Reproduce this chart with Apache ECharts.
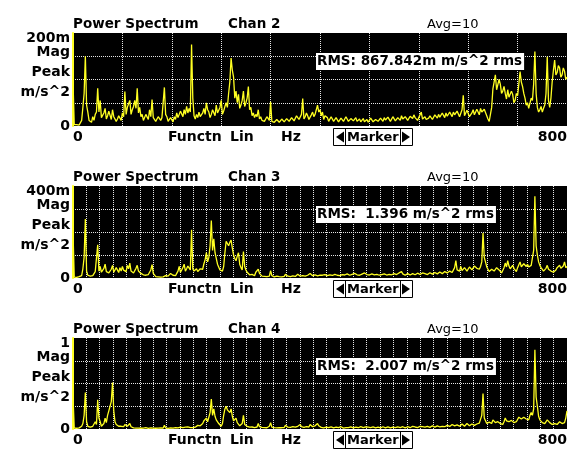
<!DOCTYPE html>
<html>
<head>
<meta charset="utf-8">
<script src="https://cdn.jsdelivr.net/npm/echarts@6/dist/echarts.min.js"></script>
<style>
html, body { margin: 0; padding: 0; background: #fff; }
#chart { width: 574px; height: 458px; }
</style>
</head>
<body>
<div id="chart"></div>
<script>
// spectrum lines, one value every 2 Hz from 0 to 800 Hz (20 per row = 40 Hz)
var freqStep = 2;

// Chan 2, in m(m/s^2)
var chan2 = [
  95, 3, 3, 3, 3, 2, 4, 12, 40, 70, 150, 45, 30, 12, 10, 8, 20, 12, 25, 30,
  81, 30, 55, 18, 20, 28, 38, 15, 22, 32, 28, 14, 35, 20, 18, 10, 15, 22, 18, 12,
  28, 20, 74, 25, 40, 48, 55, 25, 35, 42, 55, 38, 81, 28, 40, 20, 25, 12, 15, 25,
  22, 14, 35, 20, 57, 18, 20, 10, 15, 20, 22, 12, 18, 22, 83, 25, 20, 10, 12, 18,
  15, 9, 20, 14, 28, 18, 22, 32, 30, 20, 35, 25, 42, 28, 38, 30, 175, 60, 22, 15,
  25, 18, 30, 20, 22, 28, 38, 25, 50, 35, 30, 18, 25, 35, 32, 22, 45, 28, 30, 40,
  55, 25, 32, 42, 50, 40, 70, 95, 146, 120, 105, 60, 75, 50, 68, 38, 45, 55, 75, 42,
  50, 60, 85, 35, 40, 22, 28, 18, 25, 20, 35, 15, 20, 12, 15, 10, 14, 20, 16, 12,
  52, 10, 14, 8, 10, 14, 12, 8, 10, 15, 13, 9, 11, 16, 15, 10, 12, 18, 16, 11,
  14, 22, 20, 14, 18, 25, 59, 15, 20, 28, 22, 14, 18, 24, 30, 20, 25, 35, 45, 30,
  35, 22, 30, 14, 22, 26, 18, 10, 14, 20, 17, 10, 12, 18, 16, 9, 11, 17, 15, 10,
  13, 20, 18, 10, 12, 16, 20, 11, 14, 18, 10, 13, 15, 9, 12, 16, 9, 12, 14, 8,
  11, 17, 15, 9, 10, 14, 16, 10, 12, 17, 14, 10, 18, 13, 12, 19, 15, 10, 13, 20,
  17, 11, 12, 18, 16, 12, 22, 15, 14, 20, 18, 12, 15, 21, 20, 16, 24, 18, 16, 12,
  18, 22, 30, 15, 16, 20, 14, 11, 17, 22, 20, 14, 18, 24, 22, 17, 25, 19, 20, 28,
  24, 18, 28, 21, 22, 30, 25, 20, 30, 24, 22, 32, 28, 20, 24, 35, 66, 22, 25, 34,
  30, 20, 22, 28, 35, 24, 25, 36, 32, 24, 38, 30, 28, 36, 32, 22, 15, 10, 12, 40,
  80, 95, 110, 78, 82, 100, 90, 70, 75, 85, 70, 58, 78, 62, 60, 75, 68, 50, 55, 70,
  65, 90, 117, 95, 85, 70, 60, 45, 50, 38, 42, 60, 55, 90, 160, 70, 40, 30, 35, 42,
  30, 38, 45, 70, 149, 55, 40, 60, 95, 120, 142, 110, 115, 130, 125, 105, 110, 125, 118, 100,
  105
];

// Chan 3, in m(m/s^2)
var chan3 = [
  200, 4, 5, 3, 4, 6, 6, 10, 40, 90, 256, 30, 12, 6, 8, 5, 10, 18, 28, 20,
  144, 30, 50, 25, 30, 42, 60, 28, 35, 22, 28, 38, 55, 25, 30, 45, 38, 24, 45, 30,
  50, 34, 40, 28, 55, 40, 65, 30, 35, 22, 30, 42, 55, 30, 38, 20, 22, 14, 18, 12,
  20, 15, 25, 35, 58, 20, 12, 6, 8, 5, 6, 4, 8, 5, 7, 10, 12, 8, 15, 20,
  25, 12, 14, 10, 20, 30, 50, 25, 35, 45, 60, 30, 40, 52, 60, 35, 210, 40, 30, 22,
  40, 28, 32, 40, 45, 38, 62, 80, 110, 70, 90, 140, 250, 120, 170, 110, 85, 60, 55, 35,
  28, 30, 50, 110, 160, 150, 140, 155, 165, 130, 100, 85, 75, 95, 110, 60, 45, 35, 115, 50,
  35, 25, 20, 14, 22, 16, 15, 10, 25, 18, 38, 20, 15, 8, 10, 7, 9, 6, 12, 8,
  32, 10, 8, 5, 6, 8, 9, 6, 7, 5, 10, 7, 16, 9, 8, 5, 6, 8, 9, 6,
  7, 10, 16, 9, 8, 6, 10, 7, 8, 11, 12, 8, 20, 12, 10, 7, 14, 10, 9, 12,
  12, 9, 12, 8, 15, 11, 10, 14, 14, 9, 11, 15, 16, 10, 12, 16, 10, 8, 15, 11,
  13, 17, 18, 11, 12, 15, 16, 12, 20, 14, 14, 10, 12, 16, 17, 12, 22, 14, 15, 11,
  13, 17, 18, 12, 14, 18, 16, 11, 12, 16, 15, 11, 18, 13, 13, 17, 16, 12, 14, 18,
  19, 13, 15, 20, 22, 16, 28, 18, 16, 12, 14, 19, 18, 13, 15, 19, 20, 14, 17, 21,
  22, 15, 18, 22, 16, 19, 20, 15, 18, 23, 22, 17, 19, 24, 24, 18, 20, 26, 25, 19,
  22, 28, 28, 22, 25, 30, 32, 24, 30, 45, 76, 35, 38, 30, 50, 32, 35, 45, 42, 30,
  38, 48, 55, 35, 40, 52, 60, 42, 45, 38, 50, 70, 195, 90, 70, 48, 40, 28, 30, 38,
  45, 30, 38, 45, 50, 35, 35, 22, 25, 45, 65, 48, 75, 52, 40, 32, 55, 42, 35, 28,
  45, 58, 70, 48, 55, 62, 70, 50, 60, 48, 45, 55, 60, 120, 355, 140, 100, 70, 55, 45,
  40, 30, 35, 42, 55, 38, 40, 30, 32, 25, 28, 35, 45, 38, 55, 42, 40, 52, 70, 45,
  50
];

// Chan 4, in m/s^2
var chan4 = [
  0.35, 0.01, 0.01, 0.008, 0.01, 0.012, 0.015, 0.03, 0.06, 0.15, 0.40, 0.08, 0.03, 0.015, 0.02, 0.012, 0.03, 0.05, 0.08, 0.05,
  0.32, 0.12, 0.08, 0.03, 0.04, 0.06, 0.12, 0.07, 0.15, 0.2, 0.25, 0.3, 0.51, 0.2, 0.08, 0.05, 0.04, 0.03, 0.05, 0.03,
  0.035, 0.025, 0.05, 0.03, 0.03, 0.02, 0.06, 0.025, 0.02, 0.012, 0.015, 0.01, 0.02, 0.01, 0.012, 0.008, 0.015, 0.01, 0.01, 0.014,
  0.012, 0.008, 0.02, 0.012, 0.015, 0.01, 0.01, 0.008, 0.012, 0.009, 0.01, 0.013, 0.015, 0.01, 0.04, 0.012, 0.012, 0.008, 0.01, 0.012,
  0.015, 0.01, 0.012, 0.016, 0.02, 0.012, 0.015, 0.02, 0.02, 0.014, 0.03, 0.02, 0.018, 0.024, 0.025, 0.016, 0.02, 0.014, 0.015, 0.02,
  0.03, 0.04, 0.05, 0.035, 0.04, 0.06, 0.09, 0.07, 0.12, 0.08, 0.1, 0.18, 0.33, 0.15, 0.22, 0.14, 0.1, 0.08, 0.06, 0.04,
  0.03, 0.06, 0.15, 0.22, 0.25, 0.21, 0.2, 0.18, 0.22, 0.14, 0.09, 0.08, 0.12, 0.07, 0.05, 0.035, 0.03, 0.06, 0.15, 0.05,
  0.04, 0.03, 0.025, 0.02, 0.03, 0.022, 0.02, 0.015, 0.03, 0.022, 0.06, 0.025, 0.025, 0.018, 0.02, 0.015, 0.018, 0.014, 0.02, 0.03,
  0.07, 0.02, 0.02, 0.014, 0.015, 0.012, 0.02, 0.015, 0.018, 0.014, 0.022, 0.016, 0.04, 0.02, 0.02, 0.015, 0.018, 0.022, 0.025, 0.018,
  0.02, 0.016, 0.03, 0.022, 0.05, 0.025, 0.025, 0.018, 0.02, 0.025, 0.03, 0.022, 0.05, 0.03, 0.025, 0.02, 0.035, 0.025, 0.06, 0.035,
  0.03, 0.018, 0.02, 0.012, 0.015, 0.02, 0.025, 0.014, 0.018, 0.024, 0.02, 0.012, 0.015, 0.02, 0.022, 0.014, 0.018, 0.025, 0.015, 0.01,
  0.02, 0.016, 0.025, 0.015, 0.018, 0.024, 0.02, 0.012, 0.015, 0.02, 0.022, 0.014, 0.02, 0.026, 0.025, 0.016, 0.018, 0.024, 0.04, 0.02,
  0.022, 0.015, 0.018, 0.024, 0.02, 0.013, 0.015, 0.02, 0.018, 0.012, 0.02, 0.025, 0.016, 0.012, 0.02, 0.024, 0.018, 0.012, 0.015, 0.02,
  0.02, 0.014, 0.018, 0.023, 0.022, 0.015, 0.02, 0.025, 0.016, 0.012, 0.02, 0.025, 0.018, 0.014, 0.022, 0.03, 0.05, 0.022, 0.02, 0.015,
  0.025, 0.03, 0.02, 0.025, 0.028, 0.02, 0.022, 0.028, 0.025, 0.018, 0.03, 0.035, 0.024, 0.02, 0.028, 0.034, 0.03, 0.022, 0.025, 0.03,
  0.032, 0.025, 0.03, 0.04, 0.035, 0.028, 0.04, 0.05, 0.05, 0.035, 0.035, 0.045, 0.04, 0.03, 0.045, 0.055, 0.035, 0.03, 0.05, 0.06,
  0.04, 0.035, 0.045, 0.055, 0.06, 0.04, 0.045, 0.055, 0.05, 0.065, 0.08, 0.15, 0.39, 0.12, 0.09, 0.06, 0.06, 0.075, 0.08, 0.06,
  0.1, 0.08, 0.07, 0.09, 0.08, 0.065, 0.06, 0.045, 0.05, 0.08, 0.12, 0.09, 0.1, 0.08, 0.07, 0.095, 0.09, 0.07, 0.06, 0.08,
  0.1, 0.13, 0.15, 0.11, 0.1, 0.13, 0.14, 0.11, 0.12, 0.1, 0.15, 0.18, 0.15, 0.22, 0.87, 0.35, 0.25, 0.14, 0.1, 0.08,
  0.07, 0.09, 0.06, 0.08, 0.1, 0.08, 0.07, 0.06, 0.05, 0.065, 0.06, 0.05, 0.05, 0.07, 0.08, 0.06, 0.06, 0.05, 0.07, 0.12,
  0.2
];

var channels = [chan2, chan3, chan4];
var chanNames = ["Chan 2", "Chan 3", "Chan 4"];
var yMaxValues = [200, 400, 1];
var yMaxLabels = ["200m", "400m", "1"];
var xTickLabels = ["0", "800"];
var rmsLabels = [
  "RMS: 867.842m m/s^2 rms",
  "RMS:  1.396 m/s^2 rms",
  "RMS:  2.007 m/s^2 rms"
];

// layout
var panelTops = [33, 186, 338];
var panelHeights = [93, 92, 91];
var gridDivs = [10, 37, 37];
var FAMILY = '"DejaVu Sans"';
var FONT = "bold 14px " + FAMILY;
var YELLOW = "#ffff22";

function txt(x, y, s, align, font) {
  return {
    type: "text",
    x: x,
    y: y,
    z: 100,
    style: { text: s, font: font || FONT, fill: "#000", align: align || "left", verticalAlign: "middle" }
  };
}

// dotted grid, but no line on the box edges
function edgeless(n) {
  var c = [];
  for (var k = 0; k <= n; k++) c.push(k === 0 || k === n ? "rgba(0,0,0,0)" : "#e4e4e4");
  return c;
}

var grids = [], xAxes = [], yAxes = [], series = [], graphics = [];

for (var p = 0; p < 3; p++) {
  var T = panelTops[p];
  var B = T + panelHeights[p];
  var yMax = yMaxValues[p];

  grids.push({
    left: 73, top: T, width: 494, height: panelHeights[p],
    show: true, backgroundColor: "#000", borderWidth: 0
  });

  xAxes.push({
    gridIndex: p, type: "value", min: 0, max: 800, interval: 800,
    axisLine: { show: false }, axisTick: { show: false }, splitLine: { show: false },
    axisLabel: {
      margin: 4, color: "#000", fontSize: 14, fontWeight: "bold", fontFamily: "DejaVu Sans",
      alignMinLabel: "left", alignMaxLabel: "right",
      formatter: function (v) { return v === 0 ? xTickLabels[0] : xTickLabels[1]; }
    }
  });
  xAxes.push({
    gridIndex: p, type: "value", min: 0, max: gridDivs[p], interval: 1,
    axisLine: { show: false }, axisTick: { show: false }, axisLabel: { show: false },
    splitLine: { show: true, lineStyle: { color: edgeless(gridDivs[p]), type: [1, 1], width: 1 } }
  });

  yAxes.push({
    gridIndex: p, type: "value", min: 0, max: yMax, interval: yMax / 4,
    axisLine: { show: true, lineStyle: { color: YELLOW, width: 2 } },
    axisTick: { show: false },
    splitLine: { show: true, lineStyle: { color: edgeless(4), type: [1, 1], width: 1 } },
    axisLabel: {
      margin: 3, color: "#000", fontSize: 14, fontWeight: "bold", fontFamily: "DejaVu Sans",
      formatter: (function (mx, lbl) {
        return function (v) {
          if (v === mx) return "{t|" + lbl + "}";
          if (v === 0) return "0";
          return "";
        };
      })(yMax, yMaxLabels[p]),
      rich: {
        t: { fontSize: 14, fontWeight: "bold", fontFamily: "DejaVu Sans", color: "#000",
             lineHeight: 24, verticalAlign: "bottom" }
      }
    }
  });

  series.push({
    type: "line",
    xAxisIndex: p * 2,
    yAxisIndex: p,
    data: channels[p].map(function (v, i) { return [i * freqStep, v]; }),
    showSymbol: false,
    symbol: "none",
    lineStyle: { color: YELLOW, width: 1.3 },
    z: 3
  });

  graphics.push(txt(73, T - 8.5, "Power Spectrum", "left", "bold 13.5px " + FAMILY));
  graphics.push(txt(228, T - 8.5, chanNames[p], "left", "bold 13.5px " + FAMILY));
  graphics.push(txt(427, T - 8, "Avg=10", "left", "13px " + FAMILY));
  graphics.push(txt(70, T + 19, "Mag", "right"));
  graphics.push(txt(70, T + 39, "Peak", "right"));
  graphics.push(txt(70, T + 59, "m/s^2", "right"));
  graphics.push(txt(168, B + 11.5, "Functn"));
  graphics.push(txt(230, B + 11.5, "Lin"));
  graphics.push(txt(281, B + 11.5, "Hz"));

  graphics.push({
    type: "text", x: 316, y: T + 20, z: 100,
    style: {
      text: rmsLabels[p], font: "bold 13.5px " + FAMILY, fill: "#000", backgroundColor: "#fff",
      padding: [0, 2, 0, 1], lineHeight: 17, verticalAlign: "top"
    }
  });

  // marker button
  var my = B + 2.5;
  graphics.push({ type: "rect", z: 100, shape: { x: 333.5, y: my, width: 79, height: 17 },
    style: { fill: "#fff", stroke: "#000", lineWidth: 1 } });
  graphics.push({ type: "line", z: 101, shape: { x1: 345.5, y1: my, x2: 345.5, y2: my + 17 },
    style: { stroke: "#000", lineWidth: 1 } });
  graphics.push({ type: "line", z: 101, shape: { x1: 400.5, y1: my, x2: 400.5, y2: my + 17 },
    style: { stroke: "#000", lineWidth: 1 } });
  graphics.push({ type: "polygon", z: 101, shape: { points: [[336, my + 8.5], [344, my + 3], [344, my + 14]] },
    style: { fill: "#000" } });
  graphics.push({ type: "polygon", z: 101, shape: { points: [[402, my + 3], [402, my + 14], [410, my + 8.5]] },
    style: { fill: "#000" } });
  graphics.push(txt(347, my + 9, "Marker", "left", "bold 13px " + FAMILY));
}

var option = {
  backgroundColor: "#fff",
  animation: false,
  grid: grids,
  xAxis: xAxes,
  yAxis: yAxes,
  series: series,
  graphic: graphics
};

var myChart = echarts.init(document.getElementById("chart"));
myChart.setOption(option);
</script>
</body>
</html>
